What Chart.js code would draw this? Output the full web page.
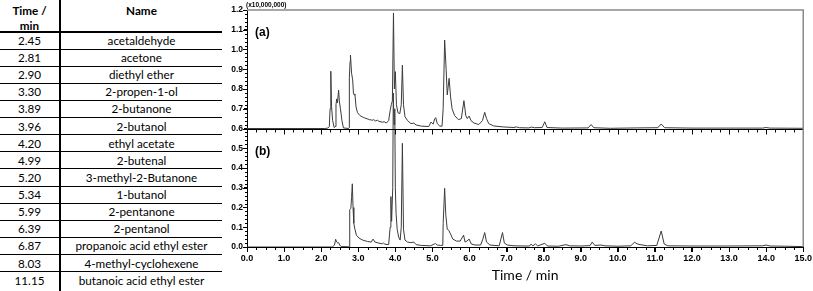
<!DOCTYPE html>
<html><head><meta charset="utf-8">
<script src="https://cdn.jsdelivr.net/npm/chart.js@4.4.1/dist/chart.umd.min.js"></script>
<style>
html,body{margin:0;padding:0;background:#fff;width:813px;height:291px;overflow:hidden;}
#tbl{position:absolute;left:0;top:0;width:222px;height:291px;font-family:Lato,"Open Sans",sans-serif;font-size:11.7px;color:#000;}
.cell{position:absolute;text-align:center;white-space:nowrap;}
.hl{position:absolute;left:0;width:222px;height:1px;background:#000;}
.vl{position:absolute;left:59px;top:0;width:2px;height:291px;background:#000;}
#cv{position:absolute;left:200px;top:0;}
.lbl{position:absolute;font-family:"Liberation Sans",Arial,sans-serif;font-weight:bold;color:#000;line-height:1;white-space:nowrap;}
</style></head><body>
<div id="tbl"></div>
<canvas id="cv" width="613" height="291"></canvas>
<div class="lbl" style="left:246px;top:2px;font-size:6.5px">(x10,000,000)</div>
<div class="lbl" style="left:255px;top:26px;font-size:12px">(a)</div>
<div class="lbl" style="left:255px;top:145px;font-size:12px">(b)</div>
<script>
// ---- table data ----
const headTime = ["Time /", "min"];
const headName = "Name";
const times = ["2.45","2.81","2.90","3.30","3.89","3.96","4.20","4.99","5.20","5.34","5.99","6.39","6.87","8.03","11.15"];
const names = ["acetaldehyde","acetone","diethyl ether","2-propen-1-ol","2-butanone","2-butanol","ethyl acetate","2-butenal","3-methyl-2-Butanone","1-butanol","2-pentanone","2-pentanol","propanoic acid ethyl ester","4-methyl-cyclohexene","butanoic acid ethyl ester"];

// ---- chromatogram (a), values as read on the y axis (x10,000,000) ----
const timeA = [0.0,2.10,2.18,2.22,2.24,2.26,2.28,2.31,2.35,2.38,2.40,2.42,2.44,2.47,2.49,2.52,2.56,2.60,2.74,2.755,2.76,2.78,2.79,2.82,2.85,2.87,2.89,2.91,2.94,2.98,3.05,3.15,3.30,3.38,3.42,3.46,3.52,3.56,3.65,3.70,3.76,3.82,3.86,3.89,3.92,3.95,3.975,4.00,4.03,4.07,4.12,4.16,4.19,4.22,4.26,4.33,4.42,4.50,4.56,4.70,4.90,4.96,4.99,5.02,5.06,5.09,5.13,5.20,5.26,5.29,5.33,5.37,5.40,5.45,5.49,5.53,5.60,5.70,5.78,5.85,5.90,5.94,5.99,6.04,6.12,6.25,6.35,6.41,6.46,6.52,6.65,6.90,7.20,7.26,7.35,7.60,7.67,7.75,7.96,8.03,8.09,8.50,9.20,9.28,9.35,9.80,10.50,11.08,11.17,11.26,12.00,13.90,14.00,14.10,15.00];
const valA  = [0.600,0.600,0.602,0.610,0.700,0.890,0.710,0.640,0.605,0.610,0.720,0.750,0.730,0.795,0.740,0.700,0.640,0.603,0.600,0.605,0.860,0.940,0.972,0.880,0.846,0.780,0.770,0.775,0.710,0.680,0.665,0.655,0.645,0.642,0.645,0.638,0.642,0.636,0.632,0.634,0.628,0.640,0.690,0.720,0.740,1.185,0.800,0.888,0.720,0.680,0.675,0.720,0.921,0.720,0.660,0.640,0.625,0.627,0.618,0.612,0.610,0.632,0.628,0.622,0.648,0.655,0.625,0.612,0.612,0.700,1.048,0.900,0.770,0.854,0.760,0.700,0.665,0.645,0.650,0.741,0.665,0.650,0.663,0.640,0.628,0.620,0.640,0.682,0.650,0.625,0.613,0.608,0.605,0.608,0.604,0.603,0.607,0.604,0.605,0.634,0.605,0.602,0.603,0.620,0.604,0.601,0.603,0.604,0.623,0.604,0.602,0.602,0.605,0.602,0.601];

// ---- chromatogram (b) ----
const timeB = [0.0,2.30,2.36,2.39,2.42,2.45,2.47,2.50,2.54,2.76,2.77,2.80,2.82,2.84,2.86,2.88,2.91,2.95,3.02,3.12,3.25,3.35,3.40,3.45,3.55,3.65,3.68,3.72,3.82,3.86,3.88,3.90,3.93,3.945,3.965,3.985,4.00,4.02,4.05,4.09,4.13,4.16,4.19,4.22,4.26,4.33,4.42,4.50,4.56,4.70,4.95,5.05,5.08,5.13,5.22,5.28,5.29,5.33,5.36,5.40,5.44,5.48,5.55,5.65,5.75,5.84,5.88,5.93,5.99,6.05,6.15,6.30,6.36,6.41,6.46,6.55,6.80,6.89,6.94,7.02,7.20,7.50,7.62,7.66,7.71,7.78,7.84,8.03,8.10,8.40,8.60,8.70,9.00,9.25,9.31,9.38,9.55,9.65,10.00,10.35,10.45,10.52,10.60,10.80,11.05,11.17,11.25,11.35,12.00,13.00,13.90,14.00,14.10,14.50,15.00];
const valB  = [0.000,0.000,0.010,0.039,0.025,0.020,0.022,0.010,0.002,0.001,0.190,0.195,0.250,0.320,0.200,0.120,0.090,0.060,0.045,0.035,0.028,0.025,0.040,0.025,0.020,0.016,0.020,0.014,0.012,0.100,0.255,0.130,0.300,0.780,0.620,0.700,0.300,0.170,0.090,0.050,0.035,0.100,0.525,0.090,0.035,0.025,0.022,0.025,0.012,0.008,0.006,0.015,0.018,0.010,0.008,0.008,0.120,0.297,0.165,0.090,0.085,0.070,0.040,0.030,0.030,0.060,0.025,0.030,0.040,0.015,0.010,0.010,0.040,0.073,0.025,0.010,0.006,0.073,0.020,0.010,0.006,0.005,0.005,0.015,0.006,0.016,0.005,0.019,0.005,0.004,0.012,0.006,0.005,0.007,0.025,0.008,0.010,0.006,0.004,0.006,0.024,0.016,0.012,0.006,0.008,0.081,0.015,0.006,0.005,0.005,0.006,0.010,0.005,0.004,0.002];

// ---- build table ----
const tbl = document.getElementById('tbl');
const H0 = 32, RH = 17.12;
function cell(txt, left, width, top, height, bold){
  const d = document.createElement('div');
  d.className = 'cell';
  d.style.left = left+'px'; d.style.width = width+'px';
  d.style.top = top+'px'; d.style.height = height+'px'; d.style.lineHeight = height+'px';
  if (bold) d.style.fontWeight = 'bold';
  d.textContent = txt; tbl.appendChild(d);
}
cell(headTime[0], 0, 59, 2, 16, true);
cell(headTime[1], 0, 59, 17, 16, true);
cell(headName, 61, 161, 2, 16, true);
function hline(y, h){ const d=document.createElement('div'); d.className='hl'; d.style.top=y+'px'; d.style.height=h+'px'; tbl.appendChild(d); }
hline(H0-1, 1.5);
times.forEach((t,i)=>{
  const top = H0 + RH*i;
  cell(t, 0, 59, top, RH, false);
  cell(names[i], 61, 161, top, RH, false);
  if (i < times.length-1) hline(top+RH-0.5, 1);
});
const v = document.createElement('div'); v.className='vl'; tbl.appendChild(v);

// ---- chart ----
const ptsA = timeA.map((t,i)=>({x:t,y:valA[i]}));
const ptsB = timeB.map((t,i)=>({x:t,y:valB[i]}));

const framePlugin = {id:'frame', afterDraw(c){
  const {ctx, chartArea:a, scales:{x, y}} = c;
  ctx.save();
  ctx.strokeStyle = '#000'; ctx.lineWidth = 1;
  const ym = Math.round(y.getPixelForValue(0.6)) + 0.5;
  ctx.beginPath();
  for (let i=0;i<=60;i++){
    const px = Math.round(x.getPixelForValue(i*0.25)) + 0.5;
    const len = (i%4===0) ? 5 : 3;
    ctx.moveTo(px, a.bottom); ctx.lineTo(px, a.bottom+len);
    ctx.moveTo(px, ym); ctx.lineTo(px, ym+len);
  }
  for (let j=0;j<=60;j++){
    const py = Math.round(y.getPixelForValue(j*0.02)) + 0.5;
    const len = (j%5===0) ? 4 : 2;
    ctx.moveTo(a.left, py); ctx.lineTo(a.left-len, py);
  }
  ctx.moveTo(a.left, ym); ctx.lineTo(a.right, ym);
  ctx.stroke();
  ctx.strokeStyle = '#8a8a8a'; ctx.lineWidth = 1.5;
  ctx.beginPath();
  ctx.moveTo(a.left, a.top); ctx.lineTo(a.right, a.top); ctx.lineTo(a.right, a.bottom);
  ctx.stroke();
  ctx.restore();
}};

const tickFont = {family:'"Liberation Sans", Arial, sans-serif', weight:'bold', size:9};
new Chart(document.getElementById('cv'), {
  type: 'line',
  data: {datasets: [
    {data: ptsB, borderColor:'#3c3c3c', borderWidth:1, pointRadius:0, tension:0},
    {data: ptsA, borderColor:'#3c3c3c', borderWidth:1, pointRadius:0, tension:0}
  ]},
  options: {
    responsive:false, animation:false, devicePixelRatio:1,
    layout:{padding:{top:10, right:9, left:0, bottom:0}},
    plugins:{legend:{display:false}, tooltip:{enabled:false}},
    scales:{
      x:{type:'linear', min:0, max:15,
        ticks:{stepSize:1, autoSkip:false, maxRotation:0, callback:v=>Number(v).toFixed(1), font:tickFont, color:'#000', padding:1},
        grid:{drawOnChartArea:false, tickLength:5, color:'#000'},
        border:{color:'#000', width:1},
        title:{display:true, text:'Time / min', font:{family:'Lato', size:14}, color:'#000', padding:{top:0, bottom:7}},
        afterFit:s=>{s.height=44;}
      },
      y:{min:0, max:1.2,
        ticks:{stepSize:0.1, autoSkip:false, callback:v=>Number(v).toFixed(1), font:{...tickFont, size:8.5}, color:'#000', padding:1},
        grid:{drawOnChartArea:false, tickLength:3, color:'#000'},
        border:{color:'#000', width:1},
        afterFit:s=>{s.width=47;}
      }
    }
  },
  plugins:[framePlugin]
});
</script>
</body></html>
